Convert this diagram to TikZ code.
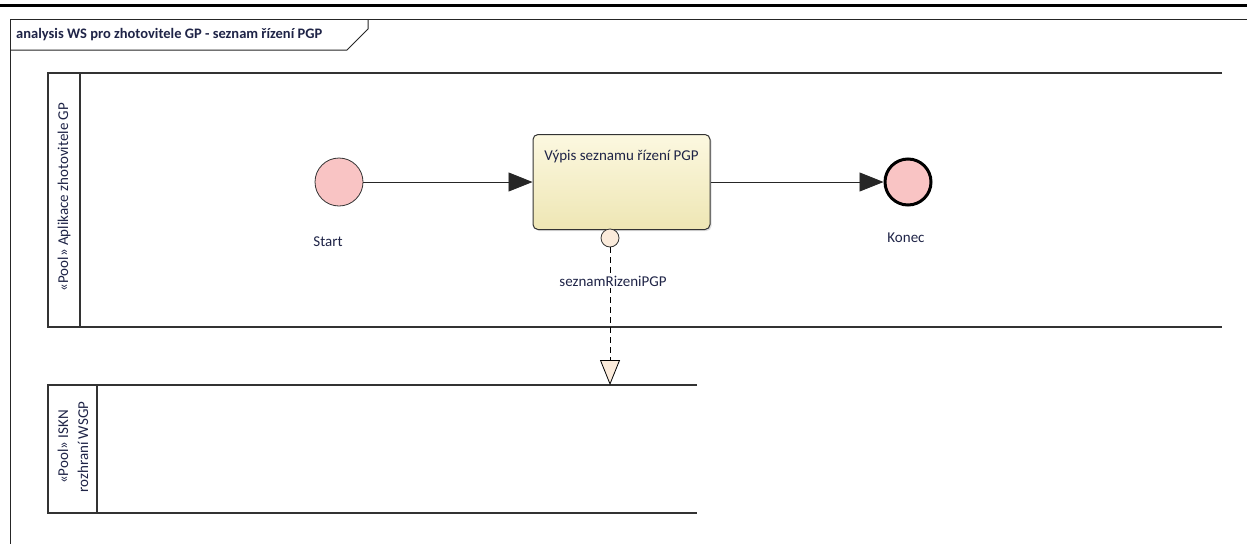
\documentclass[tikz,border=0pt]{standalone}
\usepackage{fontspec}
\setmainfont{Carlito}
\usetikzlibrary{arrows.meta,shadows}
\definecolor{txt}{HTML}{1F2447}
\definecolor{evpink}{HTML}{F9C4C4}
\definecolor{taskTop}{HTML}{FCF8E0}
\definecolor{taskBot}{HTML}{EEE6B4}
\definecolor{portfill}{HTML}{FBEBDB}
\definecolor{linegray}{HTML}{333333}
\begin{document}
\begin{tikzpicture}[x=1pt,y=-1pt,
  frameline/.style={draw=black!85,line width=1pt},
  poolline/.style={draw=linegray,line width=1.4pt},
  lbl/.style={text=txt,font=\fontsize{15}{18}\selectfont,inner sep=0pt},
  flow/.style={draw=black!85,line width=0.9pt,-{Triangle[length=24pt,width=19pt]}},
  startev/.style={circle,draw=black!80,line width=0.8pt,fill=evpink,minimum size=48pt,inner sep=0pt},
  endev/.style={circle,draw=black,line width=3pt,fill=evpink,minimum size=46pt,inner sep=0pt},
  taskbox/.style={rounded corners=5pt,draw=black!80,line width=1pt,top color=taskTop,bottom color=taskBot,
    minimum width=177pt,minimum height=95pt,inner sep=0pt,drop shadow={shadow xshift=1.5pt,shadow yshift=-1.5pt,opacity=0.25}},
  port/.style={circle,draw=black!80,line width=0.8pt,fill=portfill,minimum size=18pt,inner sep=0pt},
  msg/.style={draw=black,line width=0.9pt,dash pattern=on 6pt off 4pt,-{Triangle[open,fill=portfill,length=25pt,width=20pt,line width=0.8pt]}}
]
\useasboundingbox (0,0) rectangle (1247,544);
\fill[white] (0,0) rectangle (1247,544);
% top rule
\draw[line width=3pt] (0,5) -- (1247,5);
% frame
\draw[frameline] (1247,19) -- (10,19) -- (10,544);
\draw[frameline] (10,50) -- (347,50) -- (368,29) -- (368,19);
\node[anchor=west,text=txt,font=\bfseries\fontsize{14.5}{17}\selectfont,inner sep=0pt] (title) at (16,35) {analysis WS pro zhotovitele GP - seznam řízení PGP};
% pool 1
\draw[poolline] (1222,73) -- (48,73) -- (48,327) -- (1222,327);
\draw[poolline] (80,73) -- (80,327);
\node[lbl,rotate=90] (pool1) at (64,197) {«Pool» Aplikace zhotovitele GP};
% pool 2
\draw[poolline] (697,385) -- (48,385) -- (48,513) -- (697,513);
\draw[poolline] (97,385) -- (97,513);
\node[lbl,rotate=90,align=center,font=\fontsize{15}{20}\selectfont] (pool2) at (73,447) {«Pool» ISKN\\rozhraní WSGP};
% nodes
\node[startev] (start) at (339,182) {};
\node[lbl] (startl) at (328,242) {Start};
\node[taskbox] (task) at (621.5,182) {};
\node[lbl] (taskl) at (621.5,157) {Výpis seznamu řízení PGP};
\node[endev] (end) at (908,182) {};
\node[lbl] (endl) at (906,238) {Konec};
\node[port] (p) at (610,238) {};
\coordinate (tgt) at (610,385);
% connectors
\draw[flow] (start) -- (task);
\draw[flow] (task) -- (end);
\draw[msg] (p.south) -- (tgt);
\node[lbl,fill=white,inner sep=2pt] (pl) at (613,281) {seznamRizeniPGP};
\end{tikzpicture}
\end{document}
